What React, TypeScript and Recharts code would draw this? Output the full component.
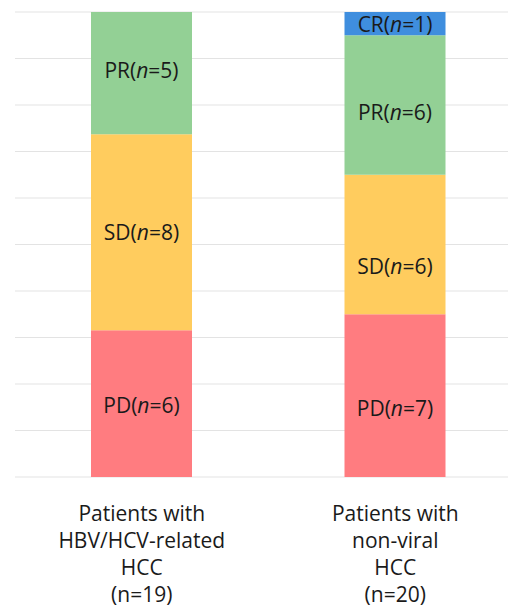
import { BarChart, Bar, XAxis, YAxis, CartesianGrid, LabelList } from "recharts";

const categories = [
  ["Patients with", "HBV/HCV-related", "HCC", "(n=19)"],
  ["Patients with", "non-viral", "HCC", "(n=20)"],
];
const pdCounts = [6, 7];
const sdCounts = [8, 6];
const prCounts = [5, 6];
const crCounts = [0, 1];
const yTicks = [0, 0.1, 0.2, 0.3, 0.4, 0.5, 0.6, 0.7, 0.8, 0.9, 1];

const data = categories.map((c, i) => ({
  name: String(i),
  PD: pdCounts[i],
  SD: sdCounts[i],
  PR: prCounts[i],
  CR: crCounts[i],
}));

const FONT = "'Open Sans', 'Noto Sans', sans-serif";

// small vertical nudges so labels sit where the original put them
const labelShift: Record<string, number[]> = {
  PD: [1, 12],
  SD: [0, 21],
  PR: [-3, 7],
  CR: [0, 0],
};

const makeLabel = (tag: string) => (props: any) => {
  const { x, y, width, height, value } = props;
  const n = Number(value);
  if (!n || !height) return null;
  const col = x > 260 ? 1 : 0;
  return (
    <text
      x={x + width / 2}
      y={y + height / 2 + labelShift[tag][col]}
      textAnchor="middle"
      dominantBaseline="central"
      fontSize={21}
      fontFamily={FONT}
      fill="#1a1a1a"
    >
      {tag}(<tspan fontStyle="italic">n</tspan>={n})
    </text>
  );
};

const CategoryTick = (props: any) => {
  const { x, y, payload } = props;
  const lines = categories[Number(payload.value)] || [];
  return (
    <text x={x} y={y} textAnchor="middle" fontSize={21} fontFamily={FONT} fill="#1a1a1a">
      {lines.map((l, i) => (
        <tspan key={i} x={x} y={y + 36 + i * 27}>
          {l}
        </tspan>
      ))}
    </text>
  );
};

export default function App() {
  return (
    <div style={{ width: 508, overflow: "hidden" }}>
      <BarChart
        width={514}
        height={600}
        data={data}
        stackOffset="expand"
        margin={{ top: 4, right: 0, bottom: 0, left: 7 }}
      >
        <CartesianGrid vertical={false} stroke="#e3e3e3" strokeWidth={1.2} />
        <XAxis dataKey="name" axisLine={false} tickLine={false} height={131} tick={<CategoryTick />} interval={0} />
        <YAxis hide domain={[0, 1]} ticks={yTicks} />
        <Bar dataKey="PD" stackId="a" fill="#FF7C80" barSize={101} isAnimationActive={false}>
          <LabelList dataKey="PD" content={makeLabel("PD")} />
        </Bar>
        <Bar dataKey="SD" stackId="a" fill="#FFCC5E" barSize={101} isAnimationActive={false}>
          <LabelList dataKey="SD" content={makeLabel("SD")} />
        </Bar>
        <Bar dataKey="PR" stackId="a" fill="#93D095" barSize={101} isAnimationActive={false}>
          <LabelList dataKey="PR" content={makeLabel("PR")} />
        </Bar>
        <Bar dataKey="CR" stackId="a" fill="#3F8EDE" barSize={101} isAnimationActive={false}>
          <LabelList dataKey="CR" content={makeLabel("CR")} />
        </Bar>
      </BarChart>
    </div>
  );
}
